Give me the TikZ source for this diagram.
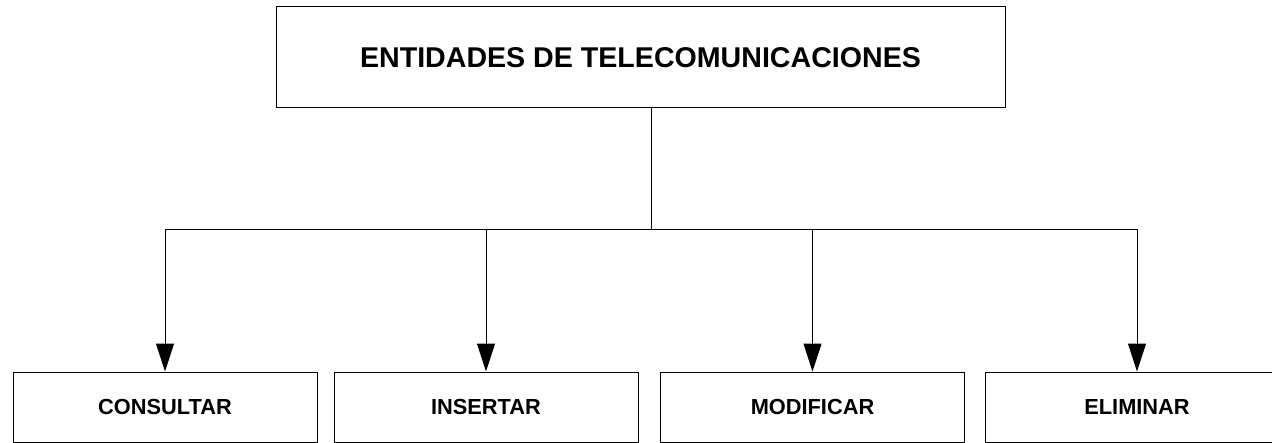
\documentclass[tikz,border=0pt]{standalone}
\usepackage{fontspec}
\setmainfont{Liberation Sans}
\usepackage{tikz}
\usetikzlibrary{
  positioning,
  arrows.meta
}
\tikzset{
  flecha/.style={-{Triangle[length=14pt,width=9pt]},line width=0.5pt},
  linea/.style={line width=0.5pt},
  titulo/.style={rectangle,draw,line width=0.5pt,minimum width=364.5pt,minimum height=50.5pt,font=\fontsize{14.3}{17}\selectfont\bfseries,inner sep=0pt},
  opcion/.style={rectangle,draw,line width=0.5pt,minimum width=152pt,minimum height=35pt,font=\fontsize{10.9}{13}\selectfont\bfseries,inner sep=0pt}
}

\begin{document}
\begin{tikzpicture}[x=0.5pt, y=-0.5pt]
    \useasboundingbox (0,0) rectangle (1272,443);
    \node[titulo] (entidades) at (640.5,57.5) {ENTIDADES DE TELECOMUNICACIONES};
    \node[opcion] (consultar) at (165,407) {CONSULTAR};
    \node[opcion] (insertar) at (486,407) {INSERTAR};
    \node[opcion] (modificar) at (812.5,407) {MODIFICAR};
    \node[opcion] (eliminar) at (1137,407) {ELIMINAR};
    \coordinate (bus) at (651,229);

    \draw[linea] (entidades.south -| bus) -- (bus);
    \draw[linea] (bus -| consultar) -- (bus -| eliminar);
    \foreach \op in {consultar,insertar,modificar,eliminar}
        \draw[flecha] (bus -| \op) -- (\op.north);
\end{tikzpicture}
\end{document}
